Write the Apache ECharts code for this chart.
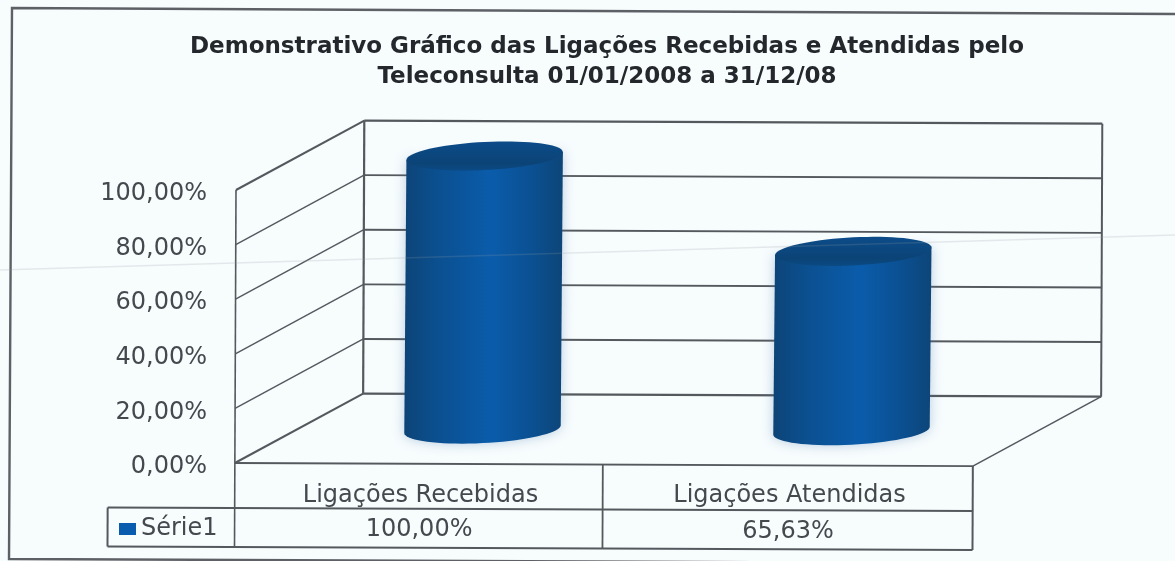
<!DOCTYPE html>
<html>
<head>
<meta charset="utf-8">
<style>html,body{margin:0;padding:0;background:#f7fcfd}#main{width:1175px;height:561px}</style>
<script src="https://cdn.jsdelivr.net/npm/echarts@6/dist/echarts.min.js"></script>
</head>
<body>
<div id="main"></div>
<script>
var titleLines = ['Demonstrativo Gráfico das Ligações Recebidas e Atendidas pelo', 'Teleconsulta 01/01/2008 a 31/12/08'];
var categories = ['Ligações Recebidas', 'Ligações Atendidas'];
var serie1 = [100, 65.63];
var yTicks = [0, 20, 40, 60, 80, 100];
var seriesName = 'Série1';

var FONT = '"DejaVu Sans"';
var LINE = '#54595e';
var TEXT = '#44494e';
var DEPTH_X = 128, DEPTH_Y = -70;   // profundidade do "3D"
var TILT = 0.0042;                  // a digitalizacao ficou um pouco torta

function pct(v) {
    return v.toFixed(2).replace('.', ',') + '%';
}

var myChart = echarts.init(document.getElementById('main'));

// gira um pouco o ponto, para acompanhar a inclinacao do papel
function tilted(rect, x, y) {
    return [x - (y - rect.y) * TILT, y + (x - rect.x) * TILT];
}

function seg(p1, p2, width, color) {
    return {
        type: 'line',
        shape: {x1: p1[0], y1: p1[1], x2: p2[0], y2: p2[1]},
        style: {stroke: color || LINE, lineWidth: width || 1.8, fill: null}
    };
}

// paredes, chao e tabela de dados
function renderFrame(params, api) {
    var r = params.coordSys;
    var left = r.x, right = r.x + r.width, bottom = r.y + r.height;
    var kids = [];
    var tick = api.value(0);
    var y = api.coord([0, tick])[1];
    var heavy = tick === 0 || tick === 100;
    // linha lateral e linha do fundo para cada marca do eixo
    kids.push(seg(tilted(r, left, y), tilted(r, left + DEPTH_X, y + DEPTH_Y), heavy ? 2 : 1.4));
    kids.push(seg(tilted(r, left + DEPTH_X, y + DEPTH_Y), tilted(r, right + DEPTH_X, y + DEPTH_Y), heavy ? 2.2 : 1.9));
    if (tick === 0) {
        var mid = left + r.width * 0.4986;
        var tableLeft = left - 127, row1 = bottom + 45, row2 = bottom + 84;
        kids.push(seg(tilted(r, left, bottom), tilted(r, right, bottom), 1.8));
        kids.push(seg(tilted(r, right, bottom), tilted(r, right + DEPTH_X, bottom + DEPTH_Y), 1.5));
        kids.push(seg(tilted(r, left, r.y), tilted(r, left, row2), 1.6));
        kids.push(seg(tilted(r, left + DEPTH_X, r.y + DEPTH_Y), tilted(r, left + DEPTH_X, bottom + DEPTH_Y), 2.2));
        kids.push(seg(tilted(r, right + DEPTH_X, r.y + DEPTH_Y), tilted(r, right + DEPTH_X, bottom + DEPTH_Y), 2));
        kids.push(seg(tilted(r, mid, bottom), tilted(r, mid, row2), 1.8));
        kids.push(seg(tilted(r, right, bottom), tilted(r, right, row2), 2));
        kids.push(seg(tilted(r, tableLeft, row1), tilted(r, right, row1), 2));
        kids.push(seg(tilted(r, tableLeft, row2), tilted(r, right, row2), 2));
        kids.push(seg(tilted(r, tableLeft, row1), tilted(r, tableLeft, row2), 2));
    }
    return {type: 'group', children: kids};
}

// cilindro: corpo + tampa, a partir do valor no eixo
function renderCylinder(params, api) {
    var r = params.coordSys;
    var base = api.coord([api.value(0), 0]);
    var top = api.coord([api.value(0), api.value(1)]);
    var a = api.size([1, 0])[0] * 0.212;
    var b = a * 0.18;
    var lean = a * 0.05;
    var c1 = tilted(r, base[0] + DEPTH_X / 2, top[1] + DEPTH_Y / 2);
    var c0 = tilted(r, base[0] + DEPTH_X / 2 - 1, base[1] + DEPTH_Y / 2);
    var pts = [];
    var i, t;
    pts.push([c1[0] - a, c1[1] + lean]);
    for (i = 0; i <= 36; i++) {
        t = Math.PI * i / 36;
        pts.push([c0[0] - a * Math.cos(t), c0[1] + lean * Math.cos(t) + b * Math.sin(t)]);
    }
    pts.push([c1[0] + a, c1[1] - lean]);
    var cap = [];
    for (i = 0; i < 72; i++) {
        t = 2 * Math.PI * i / 72;
        cap.push([c1[0] + a * Math.cos(t), c1[1] - lean * Math.cos(t) + b * Math.sin(t)]);
    }
    var label = tilted(r, base[0], base[1] + 66);
    return {
        type: 'group',
        children: [
            {
                type: 'polygon',
                shape: {points: pts},
                style: {
                    fill: new echarts.graphic.LinearGradient(0, 0, 1, 0, [
                        {offset: 0, color: '#0d4477'},
                        {offset: 0.2, color: '#0b4f8f'},
                        {offset: 0.55, color: '#0a5cab'},
                        {offset: 0.82, color: '#0b4f90'},
                        {offset: 1, color: '#0d4578'}
                    ]),
                    shadowBlur: 12,
                    shadowColor: 'rgba(60,110,170,0.35)'
                }
            },
            {
                type: 'polygon',
                shape: {points: cap},
                style: {
                    fill: new echarts.graphic.LinearGradient(0, 0, 0, 1, [
                        {offset: 0, color: '#0c4c89'},
                        {offset: 0.75, color: '#0b4376'},
                        {offset: 1, color: '#0b4a84'}
                    ])
                }
            },
            {
                type: 'text',
                x: label[0],
                y: label[1],
                style: {
                    text: pct(api.value(1)),
                    fill: TEXT,
                    font: '24px ' + FONT,
                    align: 'center',
                    verticalAlign: 'middle'
                }
            }
        ]
    };
}

var option = {
    backgroundColor: '#f7fcfd',
    animation: false,
    textStyle: {fontFamily: FONT},
    title: {
        text: titleLines.join('\n'),
        left: 602,
        top: 27,
        textAlign: 'center',
        textStyle: {fontFamily: FONT, fontSize: 23, fontWeight: 700, lineHeight: 30, color: '#24282c'}
    },
    legend: {
        data: [{name: seriesName, icon: 'rect'}],
        left: 119,
        top: 517,
        itemWidth: 17,
        itemHeight: 12,
        itemGap: 9,
        padding: 0,
        textStyle: {fontFamily: FONT, fontSize: 24, color: TEXT}
    },
    grid: {left: 236, top: 190, width: 738, height: 273, containLabel: false},
    xAxis: {
        type: 'category',
        data: categories,
        axisLine: {show: false},
        axisTick: {show: false},
        axisLabel: {margin: 21, fontFamily: FONT, fontSize: 24, color: TEXT, interval: 0},
        splitLine: {show: false}
    },
    yAxis: {
        type: 'value',
        min: 0,
        max: 100,
        interval: 20,
        axisLine: {show: false},
        axisTick: {show: false},
        splitLine: {show: false},
        axisLabel: {
            margin: 29,
            formatter: function (v) { return '{v|' + pct(v) + '}'; },
            rich: {
                // empurra o texto um pouco para baixo da marca
                v: {fontFamily: FONT, fontSize: 24, color: TEXT, padding: [8, 0, 0, 0]}
            }
        }
    },
    series: [
        {
            type: 'custom',
            name: 'moldura',
            renderItem: renderFrame,
            silent: true,
            z: 1,
            encode: {y: 0},
            data: yTicks.map(function (v) { return [v]; })
        },
        {
            type: 'custom',
            name: seriesName,
            renderItem: renderCylinder,
            z: 2,
            itemStyle: {color: '#0a5cae'},
            encode: {x: 0, y: 1},
            data: serie1.map(function (v, i) { return [i, v]; })
        }
    ],
    graphic: [
        // borda externa da folha
        {type: 'polyline', silent: true, z: 0,
            shape: {points: [[1175, 14], [12, 8], [9, 559], [1175, 564]]},
            style: {stroke: '#5d6166', lineWidth: 2.4, fill: null}},
        // dobra do papel
        {type: 'line', silent: true, z: 10,
            shape: {x1: 0, y1: 270, x2: 1175, y2: 235},
            style: {stroke: 'rgba(150,160,165,0.2)', lineWidth: 1.5}}
    ]
};

myChart.setOption(option);
</script>
</body>
</html>
